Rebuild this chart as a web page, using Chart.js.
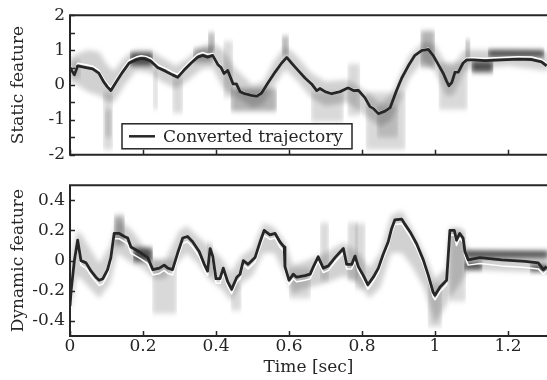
<!DOCTYPE html>
<html>
<head>
<meta charset="utf-8">
<script src="https://cdn.jsdelivr.net/npm/chart.js@4/dist/chart.umd.min.js"></script>
<style>
  html, body { margin: 0; padding: 0; background: #fff; }
  #wrap { position: relative; width: 547px; height: 380px; overflow: hidden; }
  canvas { position: absolute; left: 0; }
  #top-chart { top: 0; }
  #bottom-chart { top: 170px; }
</style>
</head>
<body>
<div id="wrap">
  <canvas id="top-chart" width="547" height="170"></canvas>
  <canvas id="bottom-chart" width="547" height="210"></canvas>
</div>
<script>
// ---- data ----
const xTicks       = [0, 0.2, 0.4, 0.6, 0.8, 1, 1.2]
const staticTicks  = [-2, -1.5, -1, -0.5, 0, 0.5, 1, 1.5, 2]
const dynamicTicks = [-0.4, -0.2, 0, 0.2, 0.4]

// static feature: converted trajectory (black) and mean (white)
const staticTime = [0, 0.012, 0.021, 0.044, 0.062, 0.079, 0.093, 0.103, 0.112, 0.126,
  0.144, 0.162, 0.181, 0.195, 0.208, 0.222, 0.24, 0.263, 0.281, 0.295,
  0.312, 0.332, 0.35, 0.364, 0.377, 0.391, 0.405, 0.414, 0.422, 0.432,
  0.447, 0.456, 0.466, 0.479, 0.498, 0.512, 0.525, 0.543, 0.562, 0.58,
  0.594, 0.607, 0.625, 0.644, 0.662, 0.676, 0.685, 0.699, 0.717, 0.74,
  0.762, 0.777, 0.79, 0.808, 0.822, 0.831, 0.845, 0.863, 0.877, 0.895,
  0.909, 0.927, 0.945, 0.964, 0.982, 0.995, 1.009, 1.023, 1.032, 1.038,
  1.046, 1.055, 1.064, 1.077, 1.087, 1.105, 1.137, 1.183, 1.228, 1.265,
  1.292, 1.306]
const staticValues = [0.5, 0.29, 0.55, 0.5, 0.46, 0.34, 0.08, -0.06, -0.16, 0.08,
  0.37, 0.63, 0.72, 0.76, 0.74, 0.68, 0.5, 0.39, 0.29, 0.22,
  0.42, 0.63, 0.8, 0.85, 0.8, 0.85, 0.59, 0.5, 0.33, 0.42,
  0.03, 0.03, -0.19, -0.25, -0.3, -0.32, -0.23, 0.07, 0.37, 0.63,
  0.79, 0.63, 0.42, 0.2, 0.03, -0.16, -0.1, -0.19, -0.25, -0.19,
  -0.08, -0.16, -0.15, -0.36, -0.62, -0.67, -0.82, -0.75, -0.65, -0.15,
  0.2, 0.55, 0.85, 0.99, 1.02, 0.85, 0.59, 0.33, 0.11, -0.02,
  0.07, 0.37, 0.37, 0.63, 0.72, 0.72, 0.7, 0.72, 0.74, 0.73,
  0.66, 0.55]
const staticMean = [0.57, 0.37, 0.62, 0.58, 0.54, 0.42, 0.16, 0.02, -0.08, 0.16,
  0.45, 0.71, 0.8, 0.84, 0.82, 0.76, 0.58, 0.47, 0.37, 0.3,
  0.5, 0.71, 0.88, 0.93, 0.88, 0.9, 0.64, 0.55, 0.38, 0.45,
  0.06, 0.05, -0.16, -0.22, -0.27, -0.29, -0.2, 0.1, 0.4, 0.66,
  0.82, 0.66, 0.45, 0.23, 0.06, -0.13, -0.07, -0.16, -0.22, -0.16,
  -0.05, -0.13, -0.12, -0.33, -0.59, -0.64, -0.79, -0.72, -0.62, -0.12,
  0.23, 0.58, 0.88, 1.02, 1.05, 0.88, 0.62, 0.36, 0.14, 0.01,
  0.1, 0.4, 0.4, 0.67, 0.77, 0.78, 0.77, 0.79, 0.81, 0.8,
  0.73, 0.62]

// static feature: spread of the distribution around the trajectory
const staticBandTime = [0, 0.02, 0.05, 0.08, 0.1, 0.12, 0.15, 0.18, 0.22, 0.25,
  0.29, 0.32, 0.36, 0.39, 0.42, 0.45, 0.5, 0.53, 0.56, 0.59,
  0.62, 0.66, 0.7, 0.76, 0.8, 0.85, 0.88, 0.9, 0.93, 0.97,
  1.0, 1.03, 1.05, 1.08, 1.1, 1.2, 1.31]
const staticBandLow = [0.1, 0.0, -0.2, -0.3, -0.45, -0.5, 0.0, 0.4, 0.35, 0.1,
  -0.1, 0.1, 0.45, 0.5, -0.1, -0.3, -0.65, -0.55, 0.0, 0.45,
  0.15, -0.35, -0.6, -0.5, -0.8, -1.2, -1.0, -0.55, 0.2, 0.7,
  0.4, -0.3, -0.3, 0.4, 0.45, 0.55, 0.4]
const staticBandHigh = [0.75, 0.9, 1.0, 0.95, 0.6, 0.4, 0.8, 1.0, 1.0, 0.8,
  0.55, 0.75, 1.1, 1.2, 1.0, 0.5, 0.0, 0.1, 0.7, 1.1,
  0.85, 0.35, 0.1, 0.15, -0.1, -0.5, -0.3, 0.2, 0.85, 1.25,
  1.15, 0.6, 0.55, 1.0, 1.0, 1.0, 0.95]

// static feature: separate shaded segments (tails and dense patches)
const staticShadeStart = [0, 0.09, 0.095, 0.164, 0.227, 0.28, 0.337, 0.378, 0.42, 0.44,
  0.58, 0.66, 0.76, 0.81, 0.84, 0.96, 1.01, 1.083, 1.1, 1.145]
const staticShadeEnd = [0.03, 0.118, 0.115, 0.227, 0.241, 0.31, 0.392, 0.397, 0.447, 0.567,
  0.6, 0.75, 0.795, 0.92, 0.9, 1.0, 1.09, 1.097, 1.16, 1.3]
const staticShadeLow = [0.2, -1.85, -1.5, 0.55, -0.7, -0.8, 0.65, 0.94, -0.35, -0.75,
  0.85, -1.05, -0.88, -1.85, -1.5, 0.5, -0.7, 0.65, 0.36, 0.8]
const staticShadeHigh = [0.7, -0.2, -0.7, 0.92, 0.4, 0.2, 1.05, 1.5, 1.25, -0.1,
  1.4, -0.2, 0.6, -0.2, -0.6, 1.55, 0.65, 1.3, 0.68, 1.0]
const staticShadeTone = ['light', 'light', 'light', 'dark', 'light', 'light', 'mid', 'mid', 'light', 'mid',
  'mid', 'light', 'light', 'light', 'light', 'mid', 'light', 'mid', 'dark', 'dark']

// dynamic feature: converted trajectory (black) and mean (white)
const dynTime = [0, 0.003, 0.012, 0.021, 0.03, 0.044, 0.058, 0.071, 0.08, 0.09,
  0.103, 0.112, 0.121, 0.135, 0.149, 0.158, 0.167, 0.181, 0.195, 0.213,
  0.227, 0.245, 0.258, 0.268, 0.281, 0.295, 0.309, 0.322, 0.336, 0.354,
  0.368, 0.377, 0.384, 0.391, 0.4, 0.411, 0.42, 0.432, 0.443, 0.457,
  0.466, 0.475, 0.488, 0.507, 0.521, 0.532, 0.548, 0.562, 0.575, 0.587,
  0.589, 0.6, 0.612, 0.621, 0.644, 0.658, 0.667, 0.68, 0.694, 0.708,
  0.726, 0.749, 0.758, 0.772, 0.781, 0.79, 0.804, 0.816, 0.831, 0.845,
  0.858, 0.872, 0.881, 0.89, 0.909, 0.918, 0.932, 0.95, 0.968, 0.982,
  0.995, 1.0, 1.014, 1.032, 1.041, 1.053, 1.059, 1.068, 1.077, 1.082,
  1.091, 1.123, 1.183, 1.247, 1.283, 1.297, 1.306]
const dynValues = [-0.3, -0.2, 0.0, 0.135, 0.0, -0.015, -0.07, -0.11, -0.13, -0.12,
  -0.06, 0.02, 0.18, 0.18, 0.16, 0.15, 0.09, 0.07, 0.05, 0.02,
  -0.06, -0.05, -0.03, -0.05, -0.06, 0.05, 0.15, 0.16, 0.125, 0.06,
  -0.025, -0.07, 0.08, 0.03, -0.12, -0.12, -0.05, -0.14, -0.19, -0.11,
  -0.09, 0.0, -0.025, 0.02, 0.125, 0.2, 0.17, 0.18, 0.125, 0.09,
  -0.04, -0.13, -0.09, -0.11, -0.1, -0.09, -0.04, 0.025, -0.05, -0.035,
  0.02, 0.08, -0.025, -0.025, 0.03, -0.04, -0.1, -0.16, -0.11, -0.05,
  0.04, 0.125, 0.21, 0.27, 0.275, 0.24, 0.19, 0.11, 0.005, -0.1,
  -0.21, -0.23, -0.175, -0.13, 0.2, 0.2, 0.135, 0.18, 0.15, 0.06,
  0.005, 0.02, 0.005, -0.005, -0.015, -0.06, -0.04]
const dynMean = [-0.3, -0.2, -0.02, 0.11, -0.03, -0.05, -0.1, -0.14, -0.165, -0.155,
  -0.095, -0.015, 0.145, 0.145, 0.125, 0.11, 0.05, 0.03, 0.01, -0.02,
  -0.095, -0.085, -0.065, -0.085, -0.095, 0.015, 0.115, 0.125, 0.09, 0.025,
  -0.06, -0.1, 0.045, -0.005, -0.15, -0.15, -0.085, -0.17, -0.22, -0.14,
  -0.12, -0.03, -0.055, -0.01, 0.09, 0.165, 0.14, 0.15, 0.09, 0.06,
  -0.07, -0.16, -0.12, -0.14, -0.13, -0.12, -0.07, -0.005, -0.08, -0.065,
  -0.01, 0.05, -0.055, -0.055, 0.0, -0.07, -0.13, -0.19, -0.14, -0.08,
  0.01, 0.095, 0.18, 0.24, 0.245, 0.21, 0.16, 0.08, -0.025, -0.13,
  -0.24, -0.26, -0.205, -0.16, 0.17, 0.17, 0.1, 0.15, 0.12, 0.03,
  -0.03, -0.02, -0.035, -0.045, -0.055, -0.09, -0.07]

const dynBandTime = [0, 0.02, 0.03, 0.08, 0.11, 0.13, 0.17, 0.2, 0.23, 0.26,
  0.3, 0.32, 0.35, 0.38, 0.42, 0.44, 0.47, 0.5, 0.53, 0.56,
  0.59, 0.61, 0.65, 0.7, 0.75, 0.79, 0.82, 0.85, 0.88, 0.91,
  0.94, 0.97, 1.0, 1.03, 1.04, 1.07, 1.09, 1.31]
const dynBandLow = [-0.35, -0.1, -0.12, -0.25, -0.15, 0.05, -0.02, -0.05, -0.12, -0.12,
  0.0, 0.05, -0.02, -0.12, -0.2, -0.27, -0.15, -0.1, 0.05, 0.05,
  -0.1, -0.22, -0.18, -0.15, -0.1, -0.15, -0.25, -0.18, 0.05, 0.05,
  -0.05, -0.18, -0.42, -0.3, -0.25, -0.15, -0.06, -0.08]
const dynBandHigh = [0.0, 0.2, 0.18, -0.02, 0.1, 0.28, 0.2, 0.1, 0.0, 0.0,
  0.2, 0.23, 0.16, 0.1, 0.0, -0.08, 0.03, 0.08, 0.25, 0.22,
  0.12, -0.03, 0.0, 0.05, 0.12, 0.05, -0.05, 0.05, 0.3, 0.33,
  0.2, 0.05, -0.12, -0.05, 0.22, 0.22, 0.07, 0.05]

const dynShadeStart = [0.12, 0.173, 0.225, 0.375, 0.44, 0.6, 0.685, 0.76, 0.78, 0.98, 1.04, 1.08, 1.08, 1.26]
const dynShadeEnd   = [0.15, 0.227, 0.293, 0.392, 0.47, 0.66, 0.71, 0.79, 0.81, 1.02, 1.085, 1.31, 1.13, 1.31]
const dynShadeLow   = [0.1, -0.005, -0.35, -0.1, -0.33, -0.25, -0.13, -0.13, -0.19, -0.44, -0.27, 0.02, -0.06, -0.07]
const dynShadeHigh  = [0.3, 0.085, 0.01, 0.12, -0.15, -0.05, 0.25, 0.25, 0.245, -0.15, 0.2, 0.065, -0.01, -0.03]
const dynShadeTone  = ['mid', 'dark', 'light', 'light', 'light', 'light', 'light', 'light', 'light', 'light', 'light', 'dark', 'dark', 'dark']

// ---- styling ----
const FONT  = 'DejaVu Serif'
const INK   = '#262626'
const X_MAX = 1.307
const TONES = { light: 'rgba(0,0,0,0.15)', mid: 'rgba(0,0,0,0.3)', dark: 'rgba(0,0,0,0.64)' }

const pts = (xs, ys) => xs.map((x, i) => ({ x, y: ys[i] }))

function shadeSets(start, end, low, high, tone) {
  return start.map((t0, i) => ({
    data: [{ x: t0, y: high[i] }, { x: end[i], y: high[i] }],
    fill: { value: low[i] },
    backgroundColor: TONES[tone[i]],
    borderWidth: 0,
    order: 5
  }))
}

function buildDatasets(time, values, mean, bandT, bandLo, bandHi, shades) {
  return [
    { label: 'Converted trajectory', data: pts(time, values), borderColor: INK, borderWidth: 2.8, order: 0 },
    { label: 'mean', data: pts(time, mean), borderColor: '#ffffff', borderWidth: 1.5, order: 1 },
    { data: pts(bandT, bandHi), borderWidth: 0, fill: '+1', backgroundColor: 'rgba(0,0,0,0.18)', order: 6 },
    { data: pts(bandT, bandLo), borderWidth: 0, fill: false, order: 6 },
    ...shades
  ]
}

// blur the grey distributions a little so they look like the fuzzy print
const softShade = {
  id: 'softShade',
  beforeDatasetsDraw(chart) { chart.ctx.filter = 'blur(2.5px)' },
  beforeDatasetDraw(chart, args) { if (args.index <= 1) chart.ctx.filter = 'none' },
  afterDatasetsDraw(chart) { chart.ctx.filter = 'none' }
}

// frame with inward tick marks
const frame = {
  id: 'frame',
  afterDatasetsDraw(chart) {
    const { ctx, chartArea: a, scales } = chart
    ctx.save()
    ctx.filter = 'none'
    ctx.strokeStyle = INK
    ctx.lineWidth = 1.5
    ctx.beginPath()
    scales.y.ticks.forEach(t => {
      const py = Math.round(scales.y.getPixelForValue(t.value)) + 0.5
      ctx.moveTo(a.left, py)
      ctx.lineTo(a.left + 5, py)
    })
    scales.x.ticks.forEach(t => {
      const px = Math.round(scales.x.getPixelForValue(t.value)) + 0.5
      ctx.moveTo(px, a.bottom)
      ctx.lineTo(px, a.bottom - 5)
    })
    ctx.stroke()
    ctx.lineWidth = 2
    ctx.beginPath()
    ctx.moveTo(a.right + 2, a.top)
    ctx.lineTo(a.left, a.top)
    ctx.lineTo(a.left, a.bottom)
    ctx.lineTo(a.right + 2, a.bottom)
    ctx.stroke()
    ctx.restore()
  }
}

const legendBox = {
  id: 'legendBox',
  afterDraw(chart) {
    const { ctx, chartArea: a } = chart
    const label = chart.data.datasets[0].label
    const x = a.left + 52, y = a.bottom - 31, w = 230, h = 25
    ctx.save()
    ctx.filter = 'none'
    ctx.fillStyle = '#fff'
    ctx.fillRect(x, y, w, h)
    ctx.strokeStyle = INK
    ctx.lineWidth = 1.5
    ctx.strokeRect(x, y, w, h)
    ctx.lineWidth = 2.5
    ctx.beginPath()
    ctx.moveTo(x + 7, y + h / 2)
    ctx.lineTo(x + 33, y + h / 2)
    ctx.stroke()
    ctx.fillStyle = INK
    ctx.font = `17px "${FONT}"`
    ctx.textBaseline = 'middle'
    ctx.fillText(label, x + 41, y + h / 2 + 1)
    ctx.restore()
  }
}

function yScale(min, max, ticks, title, labelFn) {
  return {
    type: 'linear', min, max,
    afterBuildTicks: s => { s.ticks = ticks.map(v => ({ value: v })) },
    afterFit: s => { s.width = 70 },
    grid: { display: false, drawTicks: false },
    border: { display: false },
    ticks: { autoSkip: false, padding: 5, color: INK, font: { family: FONT, size: 17 }, callback: labelFn },
    title: { display: true, text: title, color: INK, font: { family: FONT, size: 17 }, padding: { top: 8, bottom: 0 } }
  }
}

function xScale(showLabels, height) {
  return {
    type: 'linear', min: 0, max: X_MAX,
    afterBuildTicks: s => { s.ticks = xTicks.map(v => ({ value: v })) },
    afterFit: s => { s.height = height },
    grid: { display: false, drawTicks: false },
    border: { display: false },
    ticks: { display: showLabels, autoSkip: false, maxRotation: 0, padding: 0, color: INK,
      font: { family: FONT, size: 17 }, callback: v => String(v) },
    title: { display: showLabels, text: 'Time [sec]', color: INK, font: { family: FONT, size: 17 }, padding: { top: 0, bottom: 2 } }
  }
}

const common = {
  responsive: false,
  animation: false,
  elements: { point: { radius: 0 }, line: { tension: 0, borderJoinStyle: 'round' } },
  plugins: { legend: { display: false }, tooltip: { enabled: false } }
}

new Chart(document.getElementById('top-chart'), {
  type: 'line',
  data: {
    datasets: buildDatasets(staticTime, staticValues, staticMean, staticBandTime, staticBandLow, staticBandHigh,
      shadeSets(staticShadeStart, staticShadeEnd, staticShadeLow, staticShadeHigh, staticShadeTone))
  },
  options: {
    ...common,
    layout: { padding: { top: 9, left: 0, right: 0, bottom: 0 } },
    scales: {
      x: xScale(false, 7),
      y: yScale(-2, 2, staticTicks, 'Static feature', v => Number.isInteger(v) ? String(v) : '')
    }
  },
  plugins: [softShade, frame, legendBox]
})

new Chart(document.getElementById('bottom-chart'), {
  type: 'line',
  data: {
    datasets: buildDatasets(dynTime, dynValues, dynMean, dynBandTime, dynBandLow, dynBandHigh,
      shadeSets(dynShadeStart, dynShadeEnd, dynShadeLow, dynShadeHigh, dynShadeTone))
  },
  options: {
    ...common,
    layout: { padding: { top: 10, left: 0, right: 0, bottom: 0 } },
    scales: {
      x: xScale(true, 44),
      y: yScale(-0.5, 0.5, dynamicTicks, 'Dynamic feature', v => String(v))
    }
  },
  plugins: [softShade, frame]
})
</script>
</body>
</html>
